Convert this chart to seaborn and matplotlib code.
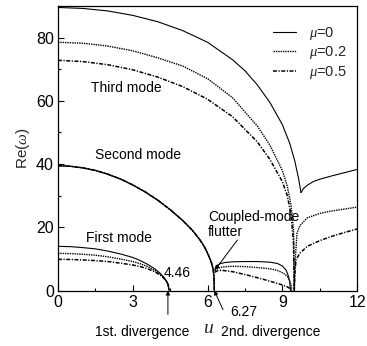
import matplotlib
matplotlib.use("Agg")
import matplotlib.pyplot as plt
import numpy as np
import pandas as pd
import seaborn as sns
from matplotlib.ticker import MultipleLocator

# ---- curve data: flow velocity u vs Re(omega) ----
mu_labels = [r"$\mu$=0", r"$\mu$=0.2", r"$\mu$=0.5"]

# first mode (divergence at u = 4.46)
first_u = [0, 0.5, 1, 1.5, 2, 2.5, 3, 3.3, 3.6, 3.9, 4.1, 4.25, 4.35, 4.42, 4.46]
first_mu0 = [14.0, 13.9, 13.6, 13.2, 12.5, 11.6, 10.5, 9.5, 8.3, 6.8, 5.5, 4.2, 3.1, 1.9, 0]
first_mu02 = [11.8, 11.7, 11.5, 11.2, 10.7, 10.0, 9.2, 8.5, 7.6, 6.3, 5.1, 4.0, 3.0, 1.9, 0]
first_mu05 = [9.9, 9.85, 9.7, 9.5, 9.2, 8.7, 8.1, 7.6, 6.9, 5.9, 4.9, 3.9, 2.9, 1.8, 0]

# second mode (same for every mu, divergence at u = 6.27)
second_u = [0, 0.5, 1, 1.5, 2, 2.5, 3, 3.5, 4, 4.5, 5, 5.4, 5.7, 5.9, 6.05, 6.15, 6.22, 6.26, 6.27]
second_v = [39.5, 39.3, 38.8, 38.0, 36.8, 35.3, 33.4, 31.2, 28.6, 25.6, 22.2, 19.0, 16.0,
            13.5, 11.0, 9.0, 7.0, 4.5, 0]

# coupled-mode flutter branches
flut_mu0_u = [6.29, 6.35, 6.5, 6.7, 7, 7.5, 8, 8.5, 8.8, 9.0, 9.15, 9.25, 9.3, 9.33]
flut_mu0_v = [6.5, 7.8, 8.5, 8.9, 9.1, 9.2, 9.2, 9.0, 8.6, 7.8, 6.5, 4.5, 2.5, 0]
flut_mu02_u = [6.29, 6.4, 6.6, 7, 7.5, 8, 8.5, 8.8, 9.05, 9.2, 9.3, 9.36, 9.38]
flut_mu02_v = [6.3, 7.0, 7.5, 7.7, 7.6, 7.3, 6.9, 6.4, 5.5, 4.5, 3.0, 1.5, 0]
flut_mu05_u = [6.29, 6.4, 6.6, 7, 7.5, 8, 8.5, 9, 9.2, 9.3, 9.35]
flut_mu05_v = [5.8, 6.3, 6.4, 6.0, 5.1, 4.1, 3.0, 1.8, 1.2, 0.7, 0]

# third mode
third_mu0_u = [0, 1, 2, 3, 4, 5, 6, 7, 7.5, 8, 8.5, 9, 9.3, 9.5, 9.65, 9.75]
third_mu0_v = [89.5, 89.2, 88.4, 87.0, 85.0, 82.2, 78.5, 73.0, 69.5, 65.0, 59.5, 52.5, 46.5,
               41.0, 35.5, 31.0]
third_mu02_u = [0, 1, 2, 3, 4, 5, 6, 7, 8, 8.5, 9, 9.2, 9.35, 9.45, 9.48]
third_mu02_v = [78.5, 78.2, 77.3, 75.8, 73.6, 71.0, 67.0, 61.0, 52.0, 46.0, 38.0, 33.0, 27.0,
                19.0, 0]
third_mu05_u = [0, 1, 2, 3, 4, 5, 6, 7, 8, 8.5, 9, 9.2, 9.35, 9.45, 9.48]
third_mu05_v = [72.8, 72.4, 71.4, 69.8, 67.5, 64.5, 60.5, 55.0, 47.0, 41.5, 34.5, 30.0, 24.0,
                15.0, 0]

# branches beyond the third-mode coalescence
upper_mu0_u = [9.75, 9.85, 10, 10.25, 10.5, 11, 11.5, 12]
upper_mu0_v = [31.0, 32.3, 33.3, 34.5, 35.2, 36.3, 37.3, 38.3]
upper_mu02_u = [9.48, 9.52, 9.59, 9.7, 10, 10.5, 11, 11.5, 12]
upper_mu02_v = [0, 10.0, 18.2, 20.5, 23.0, 24.4, 25.2, 25.8, 26.4]
upper_mu05_u = [9.48, 9.5, 9.55, 9.7, 10, 10.5, 11, 11.5, 12]
upper_mu05_v = [0, 5.0, 9.7, 11.8, 14.0, 15.8, 17.2, 18.4, 19.5]

curves = [
    ("first0", 0, first_u, first_mu0),
    ("first02", 1, first_u, first_mu02),
    ("first05", 2, first_u, first_mu05),
    ("second0", 0, second_u, second_v),
    ("second02", 1, second_u, second_v),
    ("second05", 2, second_u, second_v),
    ("flut0", 0, flut_mu0_u, flut_mu0_v),
    ("flut02", 1, flut_mu02_u, flut_mu02_v),
    ("flut05", 2, flut_mu05_u, flut_mu05_v),
    ("third0", 0, third_mu0_u, third_mu0_v),
    ("third02", 1, third_mu02_u, third_mu02_v),
    ("third05", 2, third_mu05_u, third_mu05_v),
    ("upper0", 0, upper_mu0_u, upper_mu0_v),
    ("upper02", 1, upper_mu02_u, upper_mu02_v),
    ("upper05", 2, upper_mu05_u, upper_mu05_v),
]

rows = []
for name, k, us, vs in curves:
    for a, b in zip(us, vs):
        rows.append({"u": a, "v": b, "mu": mu_labels[k], "branch": name})
df = pd.DataFrame(rows)

sns.set_theme(style="ticks")
plt.rcParams["font.family"] = ["Liberation Sans", "DejaVu Sans"]
plt.rcParams["mathtext.fontset"] = "custom"
plt.rcParams["mathtext.it"] = "Liberation Serif:italic"

fig = plt.figure(figsize=(3.67, 3.46), dpi=100)
ax = fig.add_axes([0.158, 0.160, 0.815, 0.823])

sns.lineplot(
    data=df, x="u", y="v", style="mu", size="mu", units="branch",
    estimator=None, sort=False, color="black", ax=ax,
    style_order=mu_labels, size_order=mu_labels,
    dashes={mu_labels[0]: "", mu_labels[1]: (1.0, 0.7), mu_labels[2]: (2.6, 1.0, 0.8, 1.0)},
    sizes={mu_labels[0]: 0.8, mu_labels[1]: 1.0, mu_labels[2]: 1.1},
)

ax.set_xlim(0, 12)
ax.set_ylim(0, 90)
ax.xaxis.set_major_locator(MultipleLocator(3))
ax.xaxis.set_minor_locator(MultipleLocator(1.5))
ax.yaxis.set_major_locator(MultipleLocator(20))
ax.yaxis.set_minor_locator(MultipleLocator(10))
ax.tick_params(which="both", direction="in", top=False, right=False, width=0.8,
               labelsize=11.5, colors="black")
ax.tick_params(which="major", length=4, pad=3)
ax.tick_params(which="minor", length=2.5)
for s in ax.spines.values():
    s.set_visible(True)
    s.set_linewidth(0.9)
    s.set_color("black")

ax.set_xlabel("u", fontsize=14, fontstyle="italic", family="Liberation Serif", labelpad=7)
ax.set_ylabel(r"Re($\omega$)", fontsize=11, labelpad=3)

handles, labels = ax.get_legend_handles_labels()
keep = [(h, l) for h, l in zip(handles, labels) if l in mu_labels]
ax.legend([h for h, _ in keep], [l for _, l in keep], loc="upper right",
          bbox_to_anchor=(1.0, 0.97), frameon=False, fontsize=10.5,
          handlelength=1.6, labelspacing=0.18, handletextpad=0.9, borderaxespad=0.3)

txt = dict(fontsize=10, color="black")
ax.text(2.75, 64, "Third mode", ha="center", va="center", **txt)
ax.text(3.2, 43, "Second mode", ha="center", va="center", **txt)
ax.text(2.45, 16.6, "First mode", ha="center", va="center", **txt)
ax.text(6.02, 21, "Coupled-mode\nflutter", ha="left", va="center", linespacing=1.1, **txt)
ax.text(4.78, 5.5, "4.46", ha="center", va="center", **txt)

arrow = dict(arrowstyle="-|>", color="black", lw=0.7, mutation_scale=6, shrinkA=0, shrinkB=0)
ax.annotate("", xy=(6.3, 6.6), xytext=(7.2, 16.0), arrowprops=arrow)
ax.text(3.39, -13, "1st. divergence", ha="center", va="center", clip_on=False, **txt)
ax.annotate("", xy=(4.41, 0), xytext=(4.41, -7.5), arrowprops=arrow, annotation_clip=False)
ax.text(7.47, -6.7, "6.27", ha="center", va="center", clip_on=False, **txt)
ax.annotate("", xy=(6.27, 0), xytext=(6.62, -6.0), arrowprops=arrow, annotation_clip=False)
ax.text(8.55, -13, "2nd. divergence", ha="center", va="center", clip_on=False, **txt)

fig.savefig("out.png", dpi=100)
